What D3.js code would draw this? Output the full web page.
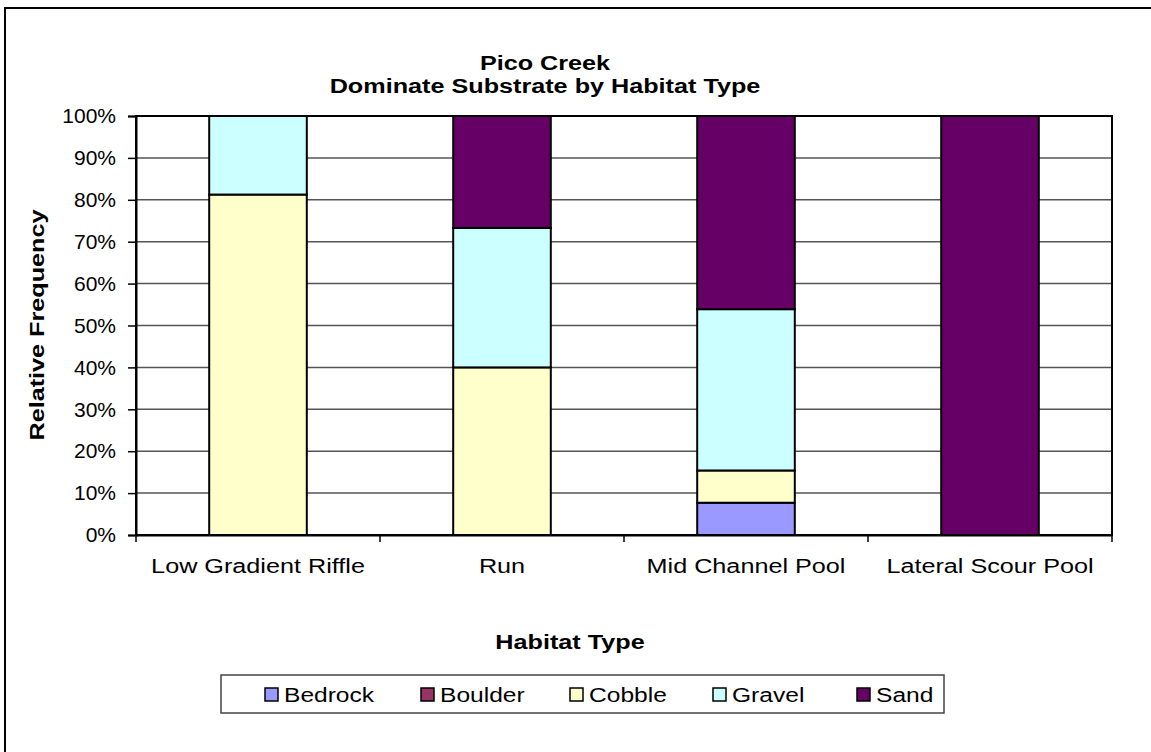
<!DOCTYPE html>
<html>
<head>
<meta charset="utf-8">
<script src="https://cdn.jsdelivr.net/npm/d3@7"></script>
<style>
  body { margin: 0; background: #fff; }
  svg { font-family: "Liberation Sans", Arial, sans-serif; }
</style>
</head>
<body>
<div id="chart"></div>
<script>
// data (percent of habitat units)
var habitats = ["Low Gradient Riffle", "Run", "Mid Channel Pool", "Lateral Scour Pool"];
var substrates = ["Bedrock", "Boulder", "Cobble", "Gravel", "Sand"];
var colors = ["#9999FF", "#993366", "#FFFFCC", "#CCFFFF", "#660066"];
var bedrock = [0, 0, 7.7, 0];
var boulder = [0, 0, 0, 0];
var cobble = [81.25, 40, 7.7, 0];
var gravel = [18.75, 33.3, 38.5, 0];
var sand = [0, 26.7, 46.1, 100];
var yTicks = [0, 10, 20, 30, 40, 50, 60, 70, 80, 90, 100];

var W = 1151, H = 752;
var margin = { left: 136, top: 116, right: W - 1112, bottom: H - 535 };
var width = W - margin.left - margin.right;
var height = H - margin.top - margin.bottom;
var FS = 21, SX = 1.2; // font size, horizontal stretch of the excel text

var svg = d3.select("#chart").append("svg").attr("width", W).attr("height", H);

// text drawn wider like the original rendering
function label(parent, x, y, txt, opts) {
  opts = opts || {};
  var t = parent.append("text")
    .attr("transform", `translate(${x},${y})` + (opts.rotate ? ` rotate(${opts.rotate})` : "") + ` scale(${opts.sx || SX},1)`)
    .attr("text-anchor", opts.anchor || "middle")
    .attr("font-size", opts.size || FS)
    .attr("font-family", "Liberation Sans, Arial, sans-serif")
    .attr("fill", "#000")
    .text(txt);
  if (opts.bold) t.attr("font-weight", "bold");
  return t;
}

// outer chart border (only top/left visible in frame)
svg.append("rect").attr("x", 5).attr("y", 8).attr("width", W + 10).attr("height", H + 10)
  .attr("fill", "none").attr("stroke", "#000").attr("stroke-width", 2);

// titles
label(svg, 545, 70, "Pico Creek", { bold: true });
label(svg, 545, 93, "Dominate Substrate by Habitat Type", { bold: true });

var g = svg.append("g").attr("transform", `translate(${margin.left},${margin.top})`);

var x = d3.scaleBand().domain(habitats).range([0, width]);
var y = d3.scaleLinear().domain([0, 100]).range([height, 0]);

// gridlines
g.selectAll(".grid").data(yTicks).join("line").attr("class", "grid")
  .attr("x1", 0).attr("x2", width)
  .attr("y1", d => y(d)).attr("y2", d => y(d))
  .attr("stroke", "#555").attr("stroke-width", 1.5);

// stack
var table = habitats.map(function (h, i) {
  return { group: h, Bedrock: bedrock[i], Boulder: boulder[i], Cobble: cobble[i], Gravel: gravel[i], Sand: sand[i] };
});
var stacked = d3.stack().keys(substrates)(table);
var color = d3.scaleOrdinal().domain(substrates).range(colors);
var barW = x.bandwidth() / 2.5; // excel gap width 150%

g.append("g").selectAll("g").data(stacked).join("g")
  .attr("fill", d => color(d.key))
  .selectAll("rect").data(d => d.filter(v => v[1] - v[0] > 0)).join("rect")
  .attr("x", d => x(d.data.group) + (x.bandwidth() - barW) / 2)
  .attr("y", d => y(d[1]))
  .attr("width", barW)
  .attr("height", d => y(d[0]) - y(d[1]))
  .attr("stroke", "#000").attr("stroke-width", 2);

// plot frame
g.append("rect").attr("x", 0).attr("y", 0).attr("width", width).attr("height", height)
  .attr("fill", "none").attr("stroke", "#000").attr("stroke-width", 2);

// y axis
var yAxis = g.append("g").call(d3.axisLeft(y).tickValues(yTicks).tickSize(8).tickPadding(12).tickFormat(d => d + "%"));
yAxis.select(".domain").attr("stroke-width", 2);
yAxis.selectAll(".tick line").attr("stroke-width", 1.5);
yAxis.selectAll("text").attr("font-size", FS).attr("fill", "#000")
  .attr("font-family", "Liberation Sans, Arial, sans-serif");

// x axis: labels centred in bands, ticks at band boundaries
var xAxis = g.append("g").attr("transform", `translate(0,${height})`)
  .call(d3.axisBottom(x).tickSize(0).tickFormat(""));
xAxis.select(".domain").attr("stroke-width", 2);
habitats.forEach(function (h) {
  label(xAxis, x(h) + x.bandwidth() / 2, 38, h);
});
g.selectAll(".xtick").data(d3.range(habitats.length + 1)).join("line").attr("class", "xtick")
  .attr("x1", i => x.step() * i).attr("x2", i => x.step() * i)
  .attr("y1", height).attr("y2", height + 7).attr("stroke", "#000").attr("stroke-width", 1.5);

// axis titles
label(svg, 44, 325, "Relative Frequency", { bold: true, rotate: -90 });
label(svg, 570, 649, "Habitat Type", { bold: true });

// legend
var lg = svg.append("g").attr("transform", "translate(221,675)");
lg.append("rect").attr("width", 723).attr("height", 38).attr("fill", "#fff")
  .attr("stroke", "#444").attr("stroke-width", 1.5);
var legendX = [44, 200, 349, 492, 636];
var item = lg.selectAll(".item").data(substrates).join("g").attr("class", "item")
  .attr("transform", (d, i) => `translate(${legendX[i]},0)`);
item.append("rect").attr("x", 0).attr("y", 13).attr("width", 13).attr("height", 13)
  .attr("fill", d => color(d)).attr("stroke", "#000").attr("stroke-width", 1.5);
item.each(function (d) {
  label(d3.select(this), 19, 27, d, { anchor: "start", sx: 1.17 });
});
</script>
</body>
</html>
